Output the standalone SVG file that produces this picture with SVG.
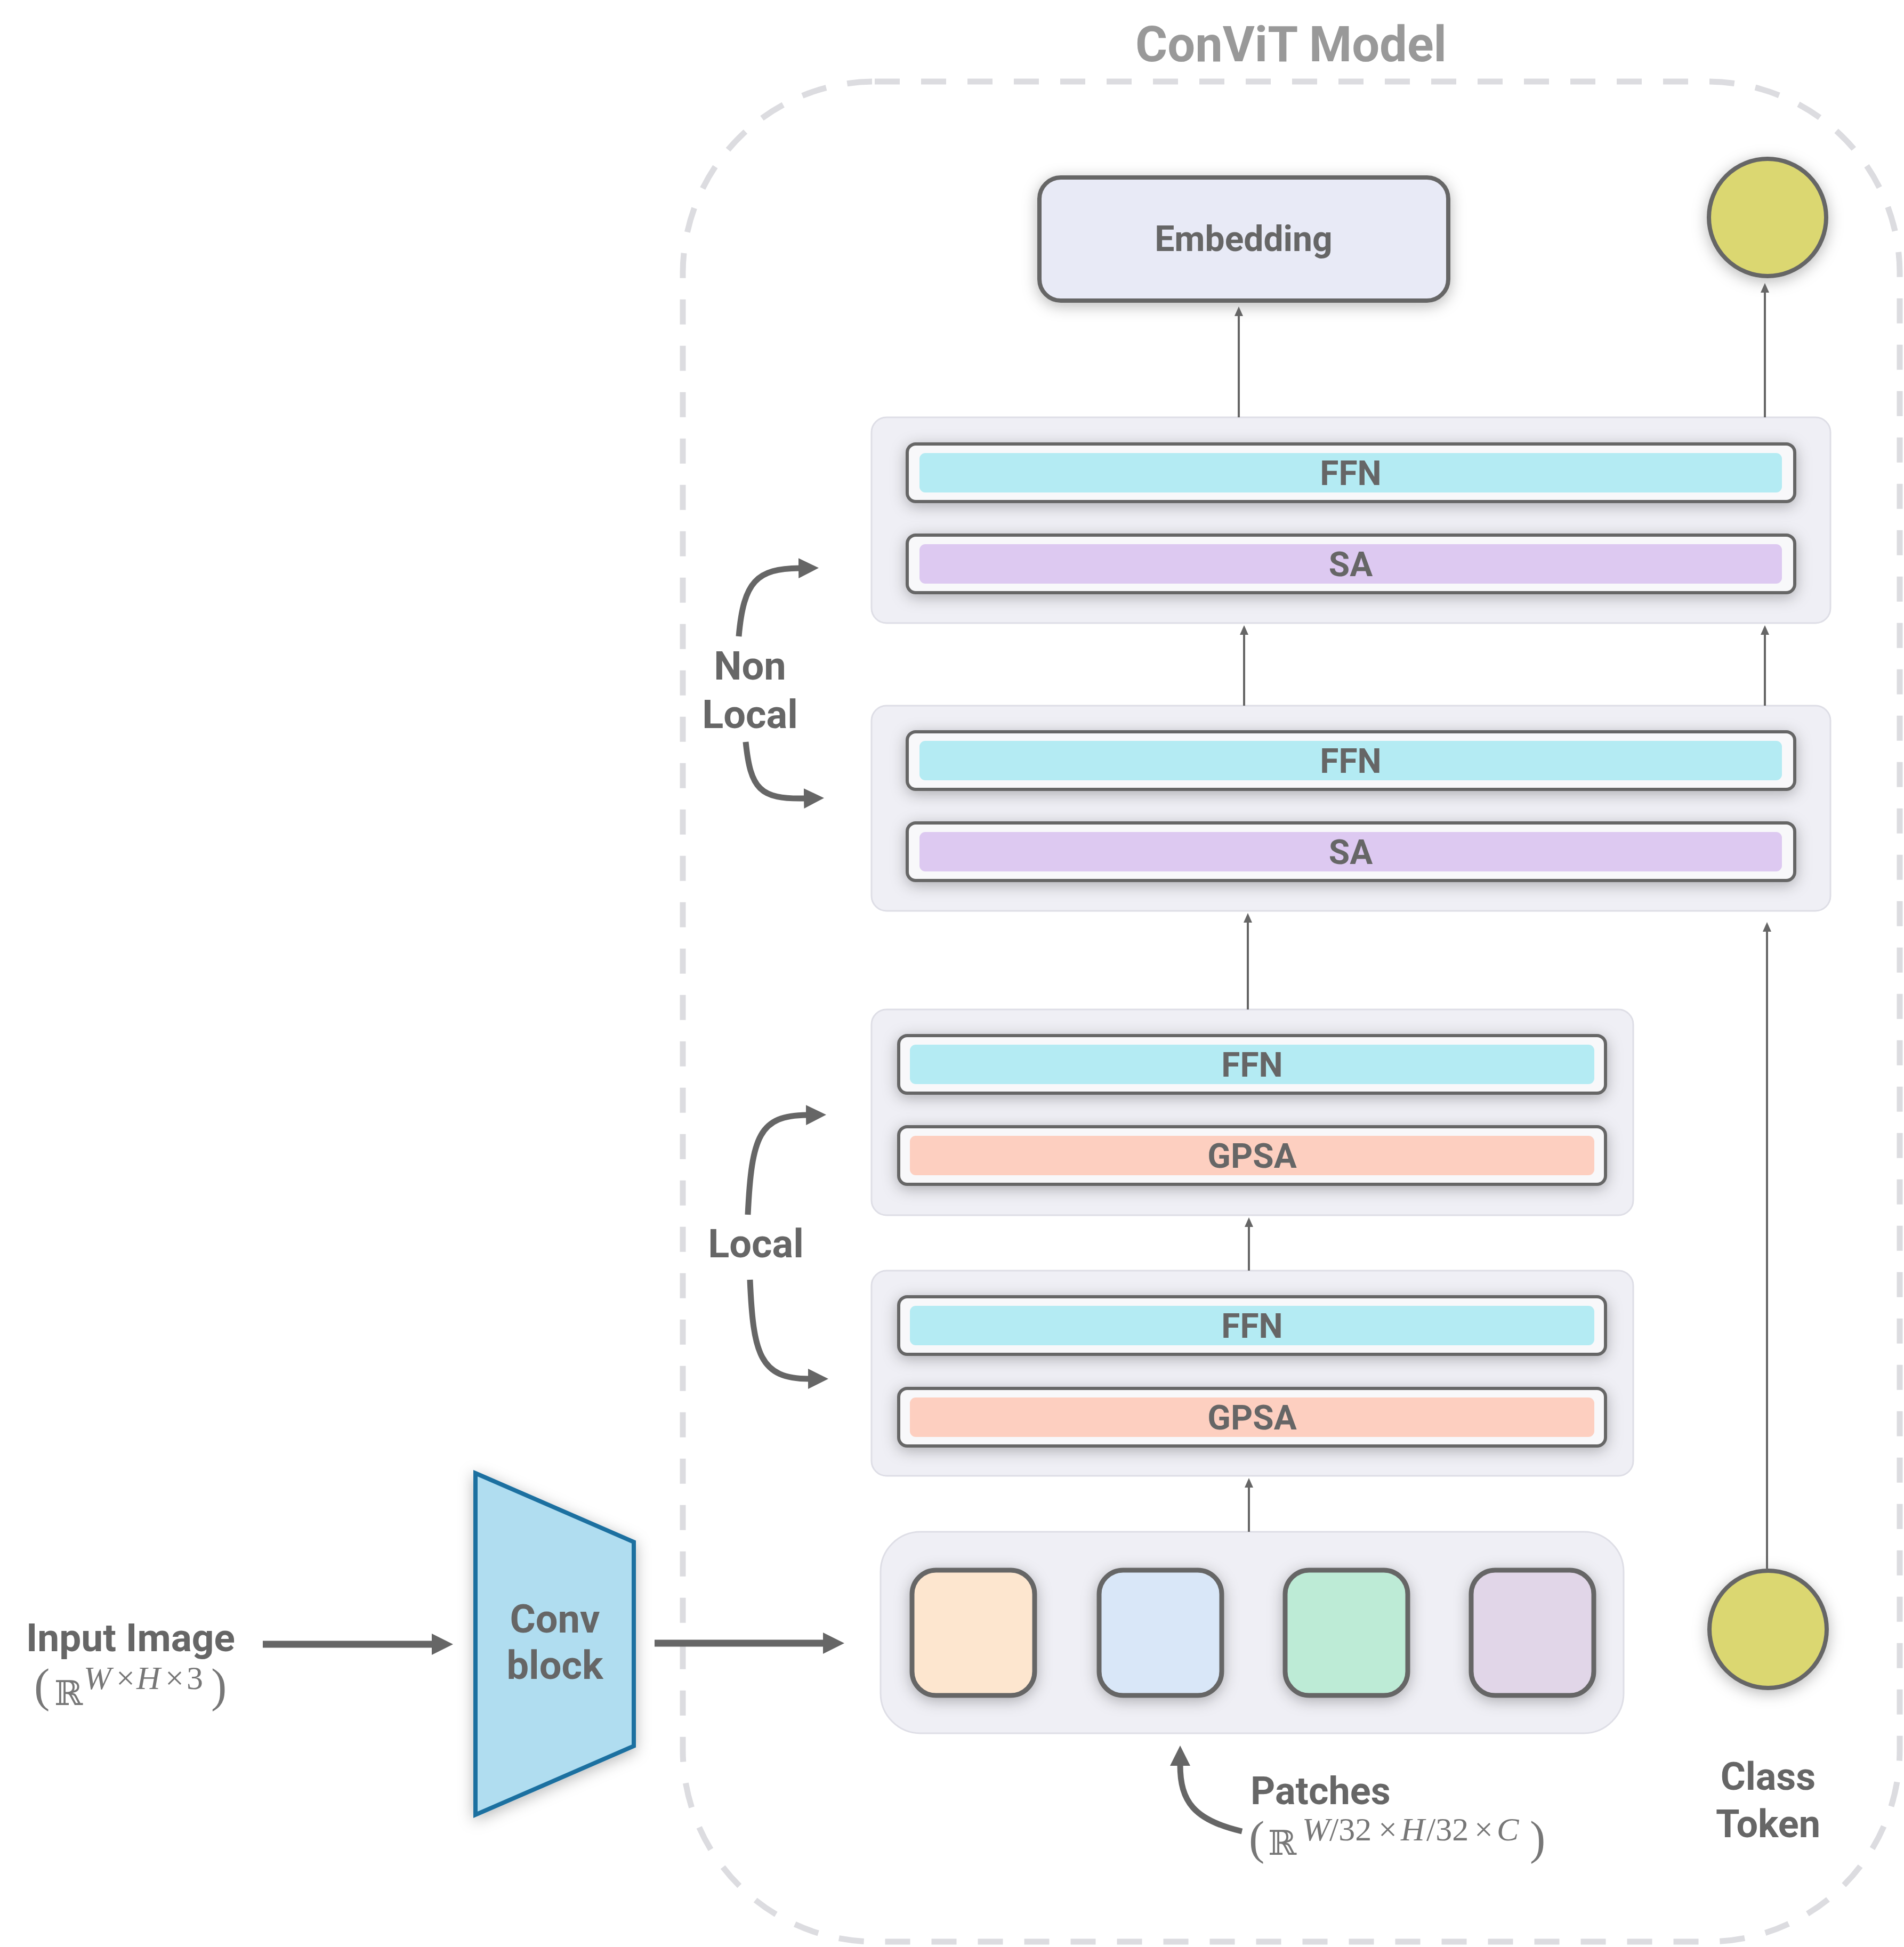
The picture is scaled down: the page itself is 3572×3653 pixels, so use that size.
<svg xmlns="http://www.w3.org/2000/svg" width="3572" height="3653" viewBox="0 0 3572 3653">
<style>
.lbl{font-family:Roboto,"Liberation Sans",sans-serif;font-weight:700;fill:#666666}
.bar{font-family:Roboto,"Liberation Sans",sans-serif;font-weight:700;fill:#666666;font-size:64px;text-anchor:middle}
.grp{fill:#efeff5;stroke:#dedee6;stroke-width:3}
.outer{fill:#f8f8fa;stroke:#666666;stroke-width:6}
.ffn{fill:#b4ebf3}
.sa{fill:#ddc9f1}
.gpsa{fill:#fdcfc0}
.thin{stroke:#666666;stroke-width:4;fill:none;marker-end:url(#at)}
.thick{stroke:#666666;stroke-width:13;fill:none;marker-end:url(#al)}
.curve{stroke:#666666;stroke-width:11;fill:none;marker-end:url(#ac)}
.math{font-family:"DejaVu Serif","Liberation Serif",serif;fill:#777777}
.paren{font-family:"Liberation Serif",serif;fill:#777777}
.mi{font-family:"Liberation Serif",serif;font-style:italic;fill:#777777}
.up{font-style:normal}
.patch{stroke:#666666;stroke-width:9}
</style>
<defs>
<filter id="sh" x="-20%" y="-40%" width="140%" height="180%">
<feDropShadow dx="0" dy="6" stdDeviation="14" flood-color="#000000" flood-opacity="0.28"/>
</filter>
<marker id="at" markerUnits="userSpaceOnUse" markerWidth="18" markerHeight="16" refX="1" refY="8" orient="auto">
<path d="M0,0 L18,8 L0,16 z" fill="#666666"/>
</marker>
<marker id="al" markerUnits="userSpaceOnUse" markerWidth="40" markerHeight="40" refX="2" refY="20" orient="auto">
<path d="M0,0 L40,20 L0,40 z" fill="#666666"/>
</marker>
<marker id="ac" markerUnits="userSpaceOnUse" markerWidth="38" markerHeight="38" refX="2" refY="19" orient="auto">
<path d="M0,0 L38,19 L0,38 z" fill="#666666"/>
</marker>
</defs>
<rect width="3572" height="3653" fill="#ffffff"/>

<g id="convit-container">
<rect x="1281" y="153" width="2283" height="3490" rx="360" fill="none" stroke="#dcdce0" stroke-width="11" stroke-dasharray="47 40"/>
<text x="2422" y="115" class="lbl" font-size="92" text-anchor="middle" style="fill:#999999">ConViT Model</text>
</g>

<g id="embedding">
<rect x="1950" y="333" width="767" height="231" rx="40" fill="#e8eaf6" stroke="#666666" stroke-width="8" filter="url(#sh)"/>
<text x="2333" y="471" class="lbl" font-size="66" text-anchor="middle">Embedding</text>
</g>

<g id="class-token-out">
<circle cx="3316" cy="408" r="110" fill="#dbd771" stroke="#666666" stroke-width="8" filter="url(#sh)"/>
</g>

<g id="block-sa-2">
<rect class="grp" x="1635" y="783" width="1799" height="386" rx="28"/>
<rect class="outer" x="1702" y="833" width="1665" height="108" rx="16" filter="url(#sh)"/>
<rect class="ffn" x="1725" y="850" width="1618" height="74" rx="11"/>
<text class="bar" x="2534" y="910">FFN</text>
<rect class="outer" x="1702" y="1004" width="1665" height="108" rx="16" filter="url(#sh)"/>
<rect class="sa" x="1725" y="1021" width="1618" height="74" rx="11"/>
<text class="bar" x="2534" y="1081">SA</text>
</g>

<g id="block-sa-1">
<rect class="grp" x="1635" y="1324" width="1799" height="385" rx="28"/>
<rect class="outer" x="1702" y="1373" width="1665" height="108" rx="16" filter="url(#sh)"/>
<rect class="ffn" x="1725" y="1390" width="1618" height="74" rx="11"/>
<text class="bar" x="2534" y="1450">FFN</text>
<rect class="outer" x="1702" y="1544" width="1665" height="108" rx="16" filter="url(#sh)"/>
<rect class="sa" x="1725" y="1561" width="1618" height="74" rx="11"/>
<text class="bar" x="2534" y="1621">SA</text>
</g>

<g id="block-gpsa-2">
<rect class="grp" x="1635" y="1894" width="1429" height="386" rx="28"/>
<rect class="outer" x="1686" y="1943" width="1326" height="108" rx="16" filter="url(#sh)"/>
<rect class="ffn" x="1707" y="1960" width="1284" height="74" rx="11"/>
<text class="bar" x="2349" y="2020">FFN</text>
<rect class="outer" x="1686" y="2114" width="1326" height="108" rx="16" filter="url(#sh)"/>
<rect class="gpsa" x="1707" y="2131" width="1284" height="74" rx="11"/>
<text class="bar" x="2349" y="2191">GPSA</text>
</g>

<g id="block-gpsa-1">
<rect class="grp" x="1635" y="2384" width="1429" height="385" rx="28"/>
<rect class="outer" x="1686" y="2433" width="1326" height="108" rx="16" filter="url(#sh)"/>
<rect class="ffn" x="1707" y="2450" width="1284" height="74" rx="11"/>
<text class="bar" x="2349" y="2510">FFN</text>
<rect class="outer" x="1686" y="2605" width="1326" height="108" rx="16" filter="url(#sh)"/>
<rect class="gpsa" x="1707" y="2622" width="1284" height="74" rx="11"/>
<text class="bar" x="2349" y="2682">GPSA</text>
</g>

<g id="patches">
<rect class="grp" x="1652" y="2874" width="1394" height="378" rx="75"/>
<rect class="patch" x="1711" y="2946" width="230" height="235" rx="45" fill="#fde6cf" filter="url(#sh)"/>
<rect class="patch" x="2062" y="2946" width="230" height="235" rx="45" fill="#d9e7f8" filter="url(#sh)"/>
<rect class="patch" x="2411" y="2946" width="230" height="235" rx="45" fill="#bdebd6" filter="url(#sh)"/>
<rect class="patch" x="2760" y="2946" width="230" height="235" rx="45" fill="#e1d6e8" filter="url(#sh)"/>
</g>

<g id="class-token">
<circle cx="3317" cy="3057" r="110" fill="#dbd771" stroke="#666666" stroke-width="8" filter="url(#sh)"/>
<text x="3317" y="3358" class="lbl" font-size="72" text-anchor="middle">Class</text>
<text x="3317" y="3447" class="lbl" font-size="72" text-anchor="middle">Token</text>
</g>

<g id="conv-block">
<polygon points="892,2764 1189,2893 1189,3276 892,3405" fill="#b0ddf0" stroke="#1a6fa0" stroke-width="8" filter="url(#sh)"/>
<text x="1041" y="3063" class="lbl" font-size="74" text-anchor="middle">Conv</text>
<text x="1041" y="3150" class="lbl" font-size="74" text-anchor="middle">block</text>
</g>

<g id="input-image">
<text x="49" y="3098" class="lbl" font-size="73">Input Image</text>
<text x="64" y="3192" class="paren" font-size="88">(</text>
<text x="102" y="3199" class="math" font-size="64">ℝ</text>
<text y="3169" class="mi" font-size="62"><tspan x="157">W</tspan><tspan x="218" class="up">×</tspan><tspan x="256">H</tspan><tspan x="310" class="up">×</tspan><tspan x="350" class="up">3</tspan></text>
<text x="396" y="3192" class="paren" font-size="88">)</text>
</g>

<g id="patches-label">
<text x="2346" y="3385" class="lbl" font-size="72">Patches</text>
<text x="2343" y="3478" class="paren" font-size="88">(</text>
<text x="2379" y="3480" class="math" font-size="64">ℝ</text>
<text y="3453" class="mi" font-size="62"><tspan x="2443">W</tspan><tspan x="2494" class="up">/32</tspan><tspan x="2586" class="up">×</tspan><tspan x="2628">H</tspan><tspan x="2676" class="up">/32</tspan><tspan x="2766" class="up">×</tspan><tspan x="2808">C</tspan></text>
<text x="2870" y="3478" class="paren" font-size="88">)</text>
</g>

<g id="scope-labels">
<text x="1407" y="1275" class="lbl" font-size="74" text-anchor="middle">Non</text>
<text x="1407" y="1366" class="lbl" font-size="74" text-anchor="middle">Local</text>
<text x="1418" y="2359" class="lbl" font-size="74" text-anchor="middle">Local</text>
</g>

<g id="connectors">
<path class="thin" d="M2324 783 L2324 592"/>
<path class="thin" d="M3311 783 L3311 548"/>
<path class="thin" d="M2334 1324 L2334 1190"/>
<path class="thin" d="M3311 1324 L3311 1190"/>
<path class="thin" d="M2341 1894 L2341 1730"/>
<path class="thin" d="M3315 2943 L3315 1747"/>
<path class="thin" d="M2343 2384 L2343 2301"/>
<path class="thin" d="M2343 2874 L2343 2790"/>
<path class="thick" d="M493 3085 L812 3085"/>
<path class="thick" d="M1228 3083 L1546 3083"/>
<path class="curve" d="M1386 1194 C1395 1090 1420 1067 1500 1066"/>
<path class="curve" d="M1399 1392 C1408 1480 1425 1500 1510 1498"/>
<path class="curve" d="M1403 2279 C1410 2130 1425 2093 1514 2092"/>
<path class="curve" d="M1407 2401 C1413 2540 1425 2587 1518 2587"/>
<path class="curve" d="M2330 3436 C2240 3415 2214 3380 2214 3311"/>
</g>
</svg>
